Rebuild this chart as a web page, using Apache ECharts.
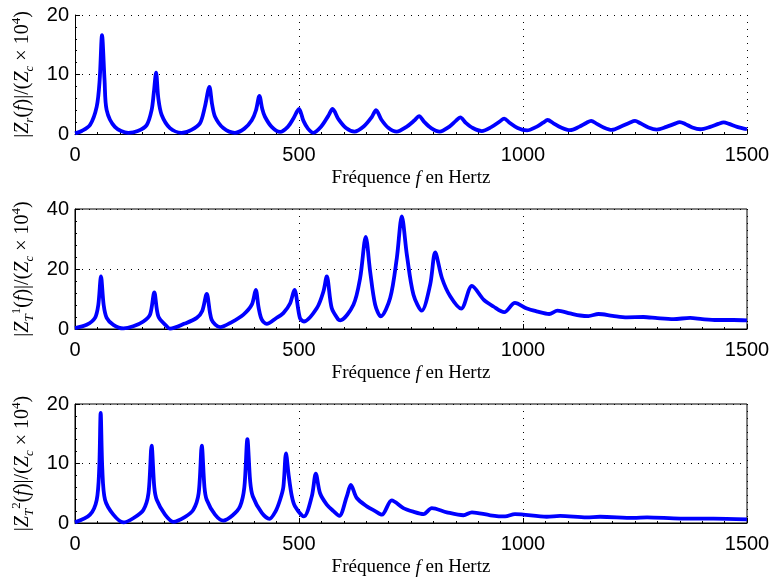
<!DOCTYPE html>
<html>
<head>
<meta charset="utf-8">
<script src="https://cdn.jsdelivr.net/npm/echarts@6/dist/echarts.min.js"></script>
<style>html,body{margin:0;padding:0;background:#fff;}#c{width:774px;height:581px;}</style>
</head>
<body>
<div id="c"></div>
<script>
// ---- data ----
var xTicks = [0, 500, 1000, 1500];
var freqZr = [0,15,33.5,48.5,55,60.3,66,70.7,89,119,
  140,160,171,176,181,186,193.5,212,238,
  260,279,290,300,306,312.6,331,357,
  378,394.6,404,411.6,418,424,439,458,
  475,487.5,500,510,520,532,550,565,575,588,605,624,
  645,662,672,684,700,718,740,758,768,780,795,814,
  835,850,860,872,888,908,930,948,958,970,988,1009,
  1030,1045,1055,1068,1085,1105,1125,1142,1152,1165,1180,1198,
  1220,1238,1250,1262,1280,1299,1320,1338,1350,1362,1378,1396,
  1418,1436,1448,1460,1478,1500];
var valZr = [0.1,0.5,1.5,4.6,9,16.6,9,4.0,1.2,0.2,
  0.5,1.5,4.0,7,10.3,6,3.2,1.0,0.2,
  0.7,1.8,4.6,7.9,5,2.9,1.0,0.2,
  0.9,2.3,4,6.4,4.2,2.9,1.2,0.35,
  1.2,2.6,4.2,2.2,0.9,0.2,1.3,3.0,4.2,2.5,1.0,0.4,
  1.3,2.8,4.0,2.4,1.0,0.4,1.2,2.3,3.0,2.0,1.0,0.4,
  1.2,2.2,2.8,1.9,1.0,0.5,1.2,2.1,2.6,1.9,1.0,0.6,
  1.2,1.9,2.35,1.8,1.1,0.65,1.2,1.9,2.2,1.7,1.1,0.7,
  1.3,1.9,2.2,1.8,1.1,0.75,1.2,1.7,2.0,1.7,1.1,0.8,
  1.2,1.7,1.95,1.7,1.2,0.8];

var freqZT1 = [0,26,44.7,52,58,64,70.7,85.6,108,
  130,152.6,167.5,177,186,204.7,212,
  245,271.7,284,294,305,324,
  350,376,394.6,403.5,410,417,428,
  448,465,480,489.8,502,511,
  540,554.5,562,573,588,592,
  621.5,636.5,649,658.8,670,682.6,
  703.5,718.4,729.5,740.7,755.5,774,
  792.8,804,819,837.5,862,
  886,912,934,958,
  982,1008.7,1030,1058.5,1077,1105,1127.7,1146,1168.7,1200,1232,1269,1300,1336,1373,1400,1433,1470,1500];
var valZT1 = [0.3,1.4,3.7,8,17.5,8,3.7,1.4,0.2,
  0.9,2.5,4.8,12.2,4.2,0.9,0.1,
  1.8,3.7,6,11.7,3.1,0.6,
  2.3,4.8,8.1,13,7,3.1,1.7,
  3.5,5.3,8.5,13,3.7,2.5,
  7,12.5,17.5,7,3.1,2.9,
  8.1,17,30.7,19.2,8.1,4.2,
  10.3,23.7,37.5,24.8,11.4,6.1,
  14.8,25.5,17,10.9,6.8,
  14.4,9.8,7.5,5.6,
  8.7,6.8,5.9,5.0,6.1,5.2,4.5,4.3,5.0,4.4,3.9,4.0,3.6,3.3,3.7,3.3,3.0,3.0,2.9];

var freqZT2 = [0,33.5,48.5,54,57.3,61,67,85.6,108,
  130,152.6,164,171,177,182.4,201,219.5,
  245,264,276,283,289,294,312.6,331,
  352,368.5,378,384.8,391,396.8,417,434,
  448,457.8,465,471,477,484,491,511,
  528.6,537.5,547,562,577,590,
  606.8,615.7,629,651.4,670,685,
  707,733,755,778,796.5,830,867,886,927,960,982,1053,1083,1142,1172,1247,1277,1351,1425,1500];
var valZT2 = [0.1,1.4,3.9,9,18.5,9,3.9,1.4,0.1,
  0.8,2.2,5,13.0,6,3.9,1.4,0.2,
  1.0,2.2,5,13.0,6,3.9,1.4,0.4,
  1.3,2.8,6,14.1,7,4.5,1.7,0.7,
  2,3.9,6,11.7,8,4.5,2.8,1.1,
  4.5,8.3,5.0,3.1,2.0,1.2,
  4.5,6.4,4.2,2.8,2.0,1.4,
  3.8,2.5,1.9,1.5,2.5,1.8,1.3,1.8,1.3,1.1,1.5,1.05,1.2,0.95,1.05,0.85,0.95,0.75,0.75,0.6];

function pairs(xs, ys){ return xs.map(function(x,i){ return [x, ys[i]]; }); }

var serif = 'Liberation Serif';
var sans = 'Liberation Sans';
var LH = 26;
var rich = {
  n: {fontFamily: serif, fontSize: 20, lineHeight: LH, color: '#000', verticalAlign: 'middle'},
  i: {fontFamily: serif, fontSize: 20, fontStyle: 'italic', lineHeight: LH, color: '#000', verticalAlign: 'middle'},
  s: {fontFamily: serif, fontSize: 13, fontStyle: 'italic', lineHeight: LH, color: '#000', verticalAlign: 'bottom'},
  p: {fontFamily: serif, fontSize: 13, lineHeight: LH, color: '#000', verticalAlign: 'top'}
};
var xRich = {
  n: {fontFamily: serif, fontSize: 19, color: '#000'},
  i: {fontFamily: serif, fontSize: 19, fontStyle: 'italic', color: '#000'}
};
var yNames = [
  '{n||}{i|Z}{s|r}{n|(}{i|f}{n|)|/(}{i|Z}{s|c}{n| × 10}{p|4}{n|)}',
  '{n||}{i|Z}{s|T}{p|1}{n|(}{i|f}{n|)|/(}{i|Z}{s|c}{n| × 10}{p|4}{n|)}',
  '{n||}{i|Z}{s|T}{p|2}{n|(}{i|f}{n|)|/(}{i|Z}{s|c}{n| × 10}{p|4}{n|)}'
];
var yMax = [20, 40, 20];
var yInt = [10, 20, 10];
var tops = [15, 209, 404];
var heights = [119, 120, 119];

var dotted = {show: true, lineStyle: {color: '#000', width: 1, type: [1, 6]}};
var grids = [], xAxes = [], yAxes = [];
for (var g = 0; g < 3; g++) {
  grids.push({left: 75, right: 27, top: tops[g], height: heights[g],
    show: g > 0, borderColor: '#000', borderWidth: 1, backgroundColor: 'transparent'});
  xAxes.push({
    type: 'value', gridIndex: g, min: 0, max: 1500, interval: 500,
    name: '{n|Fréquence }{i|f}{n| en Hertz}', nameLocation: 'middle', nameGap: 35,
    nameTextStyle: {rich: xRich},
    axisLine: {show: true, onZero: false, lineStyle: {color: '#000', width: 1}},
    axisTick: {show: true, inside: true, length: 5, lineStyle: {color: '#000'}},
    minorTick: {show: true, splitNumber: 10, length: 2, lineStyle: {color: '#000'}},
    axisLabel: {color: '#000', fontFamily: sans, fontSize: 20, margin: 11,
      formatter: function(v){ return xTicks.indexOf(v) >= 0 ? String(v) : ''; }},
    splitLine: dotted
  });
  yAxes.push({
    type: 'value', gridIndex: g, min: 0, max: yMax[g], interval: yInt[g],
    name: yNames[g], nameLocation: 'middle', nameRotate: 90, nameGap: 38,
    nameTextStyle: {rich: rich},
    axisLine: {show: true, onZero: false, lineStyle: {color: '#000', width: 1}},
    axisTick: {show: true, inside: true, length: 5, lineStyle: {color: '#000'}},
    minorTick: {show: true, splitNumber: 5, length: 2, lineStyle: {color: '#000'}},
    axisLabel: {color: '#000', fontFamily: sans, fontSize: 20, margin: 6},
    splitLine: dotted
  });
}

var lineStyle = {color: '#0000ff', width: 3.8};
var chart = echarts.init(document.getElementById('c'), null, {renderer: 'canvas'});
chart.setOption({
  animation: false,
  backgroundColor: '#fff',
  grid: grids,
  xAxis: xAxes,
  yAxis: yAxes,
  series: [
    {type: 'line', xAxisIndex: 0, yAxisIndex: 0, data: pairs(freqZr, valZr), showSymbol: false, smooth: 0.3, lineStyle: lineStyle},
    {type: 'line', xAxisIndex: 1, yAxisIndex: 1, data: pairs(freqZT1, valZT1), showSymbol: false, smooth: 0.3, lineStyle: lineStyle},
    {type: 'line', xAxisIndex: 2, yAxisIndex: 2, data: pairs(freqZT2, valZT2), showSymbol: false, smooth: 0.3, lineStyle: lineStyle}
  ]
});
</script>
</body>
</html>
